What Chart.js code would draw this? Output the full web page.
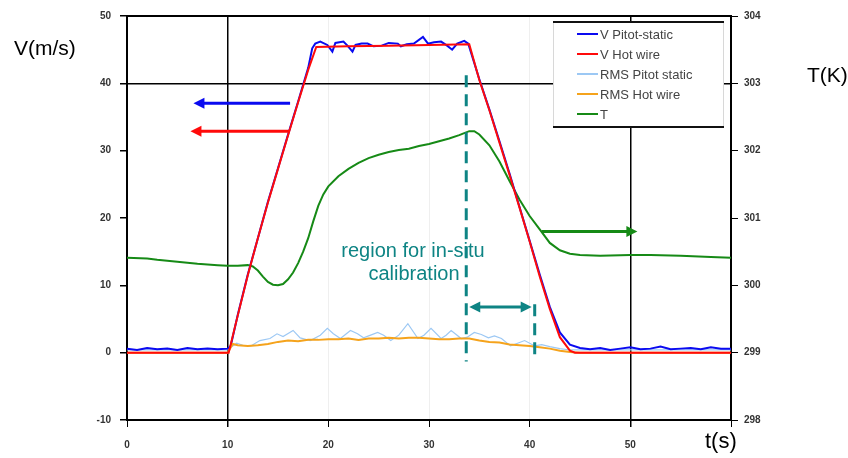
<!DOCTYPE html>
<html>
<head>
<meta charset="utf-8">
<script src="https://cdn.jsdelivr.net/npm/chart.js@4.4.1/dist/chart.umd.min.js"></script>
<style>
  html, body { margin: 0; padding: 0; background: #fff; }
  #wrap { width: 848px; height: 458px; }
</style>
</head>
<body>
<div id="wrap"><canvas id="chart" width="848" height="458"></canvas></div>
<script>
// time (s) and values
const tPitot = [0,1,2,3,4,5,6,7,8,9,10,10.3,11,12,13,14,15,16,17,18,18.4,18.7,19.2,19.9,20.4,20.7,21.5,21.9,22.4,22.7,23.3,23.9,24.5,25.3,26,26.9,27.2,27.8,28.5,29.4,29.9,30.5,31.2,31.8,32.3,32.8,33.5,33.9,35,36,37,38,39,40,41,42,43,44,45,46,47,48,49,50,51,52,53,54,55,56,57,58,59,60];
const vPitot = [0.6,0.4,0.7,0.5,0.6,0.4,0.7,0.5,0.6,0.5,0.6,1.0,5.6,11.6,17,22.4,27.4,32.4,37.3,42.3,45.2,45.9,46.2,45.7,44.7,46.0,46.2,45.6,44.7,45.7,45.9,45.9,45.5,45.6,46.0,45.9,45.5,45.8,45.9,46.9,45.9,46.1,46.2,45.6,45.0,45.9,46.3,45.9,40.6,36.1,31.4,26.6,21.6,16.6,11.6,6.8,3.0,1.2,0.7,0.5,0.7,0.4,0.6,0.8,0.5,0.6,0.9,0.5,0.6,0.7,0.5,0.8,0.6,0.6];

const tHot = [0,10,10.1,11,12,13,14,15,16,17,18,18.8,22,26,30,34,35,36,37,38,39,40,41,42,43,44,44.5,60];
const vHot = [0,0,0,5.5,11.5,17,22.3,27.3,32.3,37.2,42,45.4,45.5,45.6,45.7,45.8,40.5,36,31.2,26.4,21.5,16.5,11.3,6.5,2.3,0.3,0,0];

const tRmsPitot = [0,2,4,6,8,10,10.5,10.9,11.5,12.3,13.2,14.2,14.9,15.5,16.5,17.2,18.2,19.2,19.9,20.5,21.2,22.2,22.9,23.5,24.2,24.9,25.5,26.2,27,27.9,28.9,29.5,30.2,31.2,31.7,32.2,33.2,33.8,34.5,35.2,35.9,36.5,37.2,38.1,38.8,39.5,40.5,41.2,42,43,44,45,47,50,53,56,60];
const rmsPitot = [0.4,0.4,0.4,0.4,0.4,0.4,1.0,1.4,1.1,1.0,1.8,2.1,2.8,2.4,3.3,2.2,1.8,2.6,3.6,2.8,2.1,3.3,2.8,2.2,2.6,3.0,2.6,1.8,2.6,4.3,2.1,2.6,3.6,2.1,2.6,3.3,2.1,2.3,3.0,2.7,2.2,2.5,2.1,1.0,1.4,1.8,1.0,1.2,0.9,0.6,0.4,0.4,0.4,0.4,0.4,0.4,0.4];

const tRmsHot = [0,10,10.5,11,12,13,14,15,16,17,18,19,20,21,22,23,24,25,26,27,28,29,30,31,32,33,34,35,36,37,38,39,40,41,42,43,44,45,60];
const rmsHot = [0,0,1.3,1.1,1.0,1.1,1.3,1.6,1.8,1.7,1.9,1.9,2.0,2.0,2.1,1.9,2.1,2.1,2.2,2.1,2.2,2.2,2.1,2.0,2.0,2.1,2.1,1.8,1.6,1.5,1.2,1.1,1.0,0.8,0.6,0.3,0.1,0,0];

const tTemp = [0,2,3,5,7,9,10,11,12,12.5,13,13.5,14,14.5,15,15.5,16,16.5,17,17.5,18,18.5,19,19.5,20,21,22,23,24,25,26,27,28,29,30,31,32,33,33.5,34,34.5,35,36,37,38,39,40,41,42,43,44,45,47,50,52,55,58,60];
const temp = [300.41,300.40,300.38,300.35,300.32,300.30,300.29,300.29,300.30,300.28,300.22,300.13,300.05,300.01,300.00,300.02,300.09,300.19,300.33,300.50,300.70,300.95,301.18,301.35,301.47,301.62,301.73,301.82,301.89,301.94,301.98,302.01,302.03,302.07,302.10,302.14,302.18,302.23,302.26,302.29,302.29,302.24,302.08,301.84,301.55,301.27,301.03,300.83,300.63,300.52,300.47,300.45,300.44,300.45,300.45,300.44,300.42,300.41];

const xTicks = [0, 10, 20, 30, 40, 50, 60];
const vTicks = [-10, 0, 10, 20, 30, 40, 50];
const tempTicks = [298, 299, 300, 301, 302, 303, 304];

const seriesNames = ['V Pitot-static', 'V Hot wire', 'RMS Pitot static', 'RMS Hot wire', 'T'];

const BLUE = '#0a0af0', RED = '#ff0a0a', LBLUE = '#9cc8f4', ORANGE = '#f5a31c', GREEN = '#168a16', TEAL = '#0e8484';

const pts = (xs, ys) => xs.map((x, i) => ({ x: x, y: ys[i] }));

const notes = {
  id: 'notes',
  afterDatasetsDraw(chart) {
    const ctx = chart.ctx;
    const a = chart.chartArea;
    const X = v => chart.scales.x.getPixelForValue(v);
    const Y = v => chart.scales.y.getPixelForValue(v);
    ctx.save();

    // top frame line
    ctx.strokeStyle = '#000';
    ctx.lineWidth = 2;
    ctx.beginPath();
    ctx.moveTo(a.left, a.top);
    ctx.lineTo(a.right, a.top);
    ctx.stroke();

    const head = (x, y, dir, color, len, half) => {
      ctx.fillStyle = color;
      ctx.beginPath();
      ctx.moveTo(x, y);
      ctx.lineTo(x - dir * len, y - half);
      ctx.lineTo(x - dir * len, y + half);
      ctx.closePath();
      ctx.fill();
    };
    const arrow = (x1, x2, y, color, both) => {
      const dir = Math.sign(x2 - x1);
      ctx.strokeStyle = color;
      ctx.lineWidth = 3;
      ctx.beginPath();
      ctx.moveTo(both ? x1 + dir * 8 : x1, y);
      ctx.lineTo(x2 - dir * 8, y);
      ctx.stroke();
      head(x2, y, dir, color, 11, 5.5);
      if (both) head(x1, y, -dir, color, 11, 5.5);
    };

    arrow(X(16.2), X(6.6), Y(37.05), BLUE, false);
    arrow(X(16.1), X(6.3), Y(32.9), RED, false);
    arrow(X(41.2), X(50.7), Y(18.0), GREEN, false);

    // calibration region markers
    ctx.strokeStyle = TEAL;
    ctx.lineWidth = 3;
    ctx.setLineDash([12, 7]);
    ctx.beginPath();
    ctx.moveTo(X(33.7), Y(41.2));
    ctx.lineTo(X(33.7), Y(-1.3));
    ctx.moveTo(X(40.5), Y(7.2));
    ctx.lineTo(X(40.5), Y(-0.9));
    ctx.stroke();
    ctx.setLineDash([]);
    arrow(X(34.0), X(40.2), Y(6.8), TEAL, true);

    ctx.fillStyle = TEAL;
    ctx.font = '20px Arial, "Liberation Sans"';
    ctx.textAlign = 'center';
    ctx.textBaseline = 'alphabetic';
    ctx.fillText('region for in-situ', 413, 257);
    ctx.fillText('calibration', 414, 280);

    // legend
    const lx = 553, ly = 22, lw = 171, lh = 105;
    ctx.fillStyle = '#fff';
    ctx.fillRect(lx, ly, lw, lh);
    ctx.strokeStyle = '#d8d8d8';
    ctx.lineWidth = 1;
    ctx.beginPath();
    ctx.moveTo(lx + 0.5, ly); ctx.lineTo(lx + 0.5, ly + lh);
    ctx.moveTo(lx + lw - 0.5, ly); ctx.lineTo(lx + lw - 0.5, ly + lh);
    ctx.stroke();
    ctx.strokeStyle = '#111';
    ctx.lineWidth = 2;
    ctx.beginPath();
    ctx.moveTo(lx, ly); ctx.lineTo(lx + lw, ly);
    ctx.moveTo(lx, ly + lh); ctx.lineTo(lx + lw, ly + lh);
    ctx.stroke();
    ctx.font = '13px Arial, "Liberation Sans"';
    ctx.textAlign = 'left';
    ctx.textBaseline = 'middle';
    seriesNames.forEach((name, i) => {
      const ds = chart.data.datasets.find(d => d.label === name);
      const yy = 34 + i * 20;
      ctx.strokeStyle = ds.borderColor;
      ctx.lineWidth = 2;
      ctx.beginPath();
      ctx.moveTo(577, yy); ctx.lineTo(598, yy);
      ctx.stroke();
      ctx.fillStyle = '#444';
      ctx.fillText(name, 600, yy + 1);
    });

    // axis titles
    ctx.fillStyle = '#000';
    ctx.font = '21px Arial, "Liberation Sans"';
    ctx.textBaseline = 'alphabetic';
    ctx.textAlign = 'left';
    ctx.fillText('V(m/s)', 14, 55);
    ctx.fillText('T(K)', 807, 82);
    ctx.font = '22px Arial, "Liberation Sans"';
    ctx.fillText('t(s)', 705, 448);
    ctx.restore();
  }
};

const tickFont = { family: 'Arial, "Liberation Sans"', size: 10, weight: 'bold' };

new Chart(document.getElementById('chart'), {
  type: 'line',
  data: {
    datasets: [
      { label: 'V Hot wire', data: pts(tHot, vHot), borderColor: RED, borderWidth: 2, order: 0 },
      { label: 'RMS Hot wire', data: pts(tRmsHot, rmsHot), borderColor: ORANGE, borderWidth: 2, order: 1 },
      { label: 'V Pitot-static', data: pts(tPitot, vPitot), borderColor: BLUE, borderWidth: 2, order: 2 },
      { label: 'RMS Pitot static', data: pts(tRmsPitot, rmsPitot), borderColor: LBLUE, borderWidth: 1.2, order: 3 },
      { label: 'T', data: pts(tTemp, temp), borderColor: GREEN, borderWidth: 2, yAxisID: 'y1', order: 4 }
    ]
  },
  options: {
    responsive: false,
    animation: false,
    elements: { point: { radius: 0 }, line: { tension: 0, fill: false } },
    layout: { padding: { top: 16, left: 0, right: 0, bottom: 0 } },
    plugins: { legend: { display: false }, tooltip: { enabled: false } },
    scales: {
      x: {
        type: 'linear', min: xTicks[0], max: xTicks[xTicks.length - 1],
        afterBuildTicks: s => { s.ticks = xTicks.map(v => ({ value: v })); },
        afterFit: s => { s.height = 38; },
        ticks: { font: tickFont, color: '#333', padding: 12, maxRotation: 0,
          callback: v => v === 60 ? '' : String(v) },
        grid: {
          color: c => (c.tick.value === 10 || c.tick.value === 50) ? '#000' : (c.tick.value === 0 || c.tick.value === 60 ? 'rgba(0,0,0,0)' : '#efefef'),
          lineWidth: c => (c.tick.value === 10 || c.tick.value === 50) ? 1.5 : 1,
          tickColor: '#000', tickLength: 7
        },
        border: { color: '#000', width: 2 }
      },
      y: {
        position: 'left', min: vTicks[0], max: vTicks[vTicks.length - 1],
        afterBuildTicks: s => { s.ticks = vTicks.map(v => ({ value: v })); },
        afterFit: s => { s.width = 127; },
        ticks: { font: tickFont, color: '#333', padding: 9 },
        grid: {
          color: c => c.tick.value === 40 ? '#000' : 'rgba(0,0,0,0)',
          lineWidth: 1.5,
          tickColor: '#000', tickLength: 7
        },
        border: { color: '#000', width: 2 }
      },
      y1: {
        position: 'right', min: tempTicks[0], max: tempTicks[tempTicks.length - 1],
        afterBuildTicks: s => { s.ticks = tempTicks.map(v => ({ value: v })); },
        afterFit: s => { s.width = 117; },
        ticks: { font: tickFont, color: '#333', padding: 6 },
        grid: { drawOnChartArea: false, tickColor: '#000', tickLength: 7 },
        border: { color: '#000', width: 2 }
      }
    }
  },
  plugins: [notes]
});
</script>
</body>
</html>
